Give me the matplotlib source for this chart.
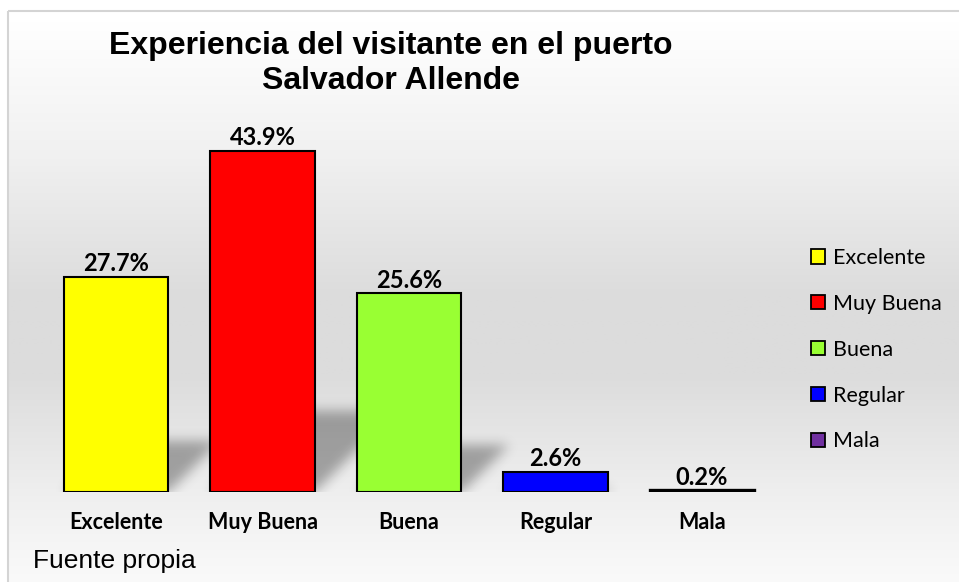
import numpy as np
import matplotlib
matplotlib.use("Agg")
import matplotlib.pyplot as plt
from matplotlib.patches import Rectangle, Patch

# data
categories = ["Excelente", "Muy Buena", "Buena", "Regular", "Mala"]
values = [27.7, 43.9, 25.6, 2.6, 0.2]
colors = ["#ffff00", "#ff0000", "#99ff33", "#0000ff", "#7030a0"]
value_labels = ["27.7%", "43.9%", "25.6%", "2.6%", "0.2%"]
title = "Experiencia del visitante en el puerto\nSalvador Allende"
source = "Fuente propia"

W, H = 959, 582
fig = plt.figure(figsize=(W / 100, H / 100), dpi=100)

# background: chart area with a soft vertical grey gradient and light border
bg = fig.add_axes([0, 0, 1, 1], zorder=-10)
ys = np.arange(H)
stops_y = [0, 11, 150, 290, 370, 500, 582]
stops_g = [255, 255, 240, 220, 220, 240, 250]
grey = np.interp(ys, stops_y, stops_g) / 255.0
grad = np.repeat(grey[:, None], 2, axis=1)
grad_rgb = np.dstack([grad, grad, grad])
bg.imshow(grad_rgb, extent=[8, W + 5, H, 11], aspect="auto", interpolation="bilinear")
bg.add_patch(Rectangle((8, 11), W, H, fill=False, edgecolor="#d4d4d4", lw=1.5))
bg.set_xlim(0, W)
bg.set_ylim(H, 0)
bg.axis("off")

# main plot area
ax_left, ax_right = 42.75, 775.25
base_y = 492
px_per_pct = 7.77
ytop = 50
ax_h = ytop * px_per_pct
ax = fig.add_axes([ax_left / W, (H - base_y) / H, (ax_right - ax_left) / W, ax_h / H])
ax.patch.set_alpha(0)

x = np.arange(len(categories))
bar_w = 0.71

# soft perspective shadows (bars skewed to the upper right, flattened)
nx, ny = int(ax_right - ax_left), int(ax_h)
mask = np.zeros((ny, nx))
cat_px = (ax_right - ax_left) / len(categories)
cols = np.arange(nx)
for i, v in enumerate(values):
    top = int(v * px_per_pct * 0.24)
    x0 = (i + 0.5 - bar_w / 2) * cat_px
    x1 = (i + 0.5 + bar_w / 2) * cat_px
    for t in range(top):
        mask[t, (cols >= x0 + t) & (cols <= x1 + t)] = 1.0
sigma = 6
k = np.arange(-3 * sigma, 3 * sigma + 1)
kern = np.exp(-k ** 2 / (2 * sigma ** 2))
kern /= kern.sum()
pad = 3 * sigma
m = np.pad(mask, pad, mode="constant")
m = np.apply_along_axis(lambda r: np.convolve(r, kern, mode="same"), 1, m)
m = np.apply_along_axis(lambda r: np.convolve(r, kern, mode="same"), 0, m)
m = m[pad:-pad, pad:-pad]
shadow = np.zeros((ny, nx, 4))
shadow[..., 3] = m * 0.32
ax.imshow(shadow, extent=[-0.5, len(categories) - 0.5, 0, ytop], origin="lower",
          aspect="auto", zorder=0.5, interpolation="bilinear")

bars = ax.bar(x, values, width=bar_w, color=colors, edgecolor="black",
              linewidth=[1.5, 1.5, 1.5, 1.5, 2.4], zorder=2)

for xi, v, lab in zip(x, values, value_labels):
    ax.annotate(lab, (xi, v), xytext=(0, 4), textcoords="offset points",
                ha="center", va="baseline", fontsize=17, fontweight="bold",
                family="Lato", color="black")

ax.set_xlim(-0.5, len(categories) - 0.5)
ax.set_ylim(0, ytop)
ax.set_xticks(x)
ax.set_xticklabels(categories, fontsize=15.5, fontweight="bold", family="Lato")
ax.tick_params(axis="x", length=0, pad=14.5)
ax.set_yticks([])
for s in ax.spines.values():
    s.set_visible(False)

handles = [Patch(facecolor=c, edgecolor="black", linewidth=1.3) for c in colors]
fig.legend(handles, categories, loc="upper left", bbox_to_anchor=(811 / W, 1 - 248 / H),
           frameon=False, prop={"family": "Lato", "size": 15.5},
           handlelength=0.65, handleheight=0.65, handletextpad=0.35,
           labelspacing=1.2, borderaxespad=0, borderpad=0)

fig.text(391 / W, 1 - 31 / H, title, ha="center", va="top", fontsize=23,
         fontweight="bold", family="Liberation Sans", linespacing=1.22)
fig.text(33 / W, 1 - 568 / H, source, ha="left", va="baseline", fontsize=19,
         family="Liberation Sans")

fig.savefig("out.png", dpi=100)
